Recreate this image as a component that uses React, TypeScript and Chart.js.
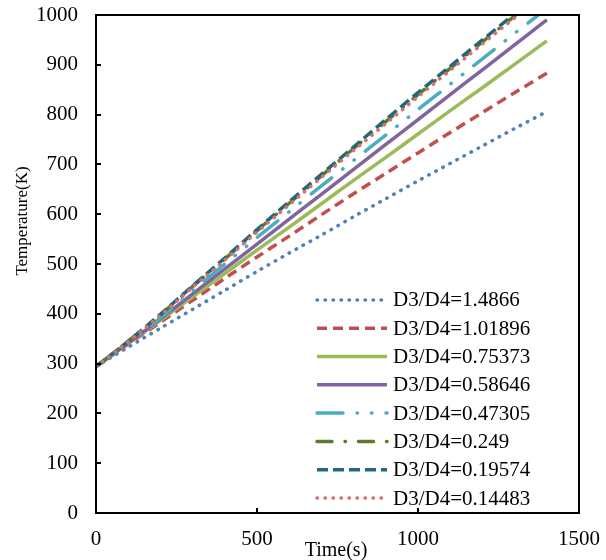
import React, { useEffect, useRef } from "react";
import { Chart, registerables } from "chart.js";

Chart.register(...registerables);

const times = [0, 100, 200, 300, 400, 500, 600, 700, 800, 900, 1000, 1100, 1200, 1300, 1400];

const seriesNames = [
  "D3/D4=1.4866",
  "D3/D4=1.01896",
  "D3/D4=0.75373",
  "D3/D4=0.58646",
  "D3/D4=0.47305",
  "D3/D4=0.249",
  "D3/D4=0.19574",
  "D3/D4=0.14483",
];

const t14866 = [294, 333, 371, 409, 447, 485, 522, 558, 595, 631, 667, 702, 737, 772, 806];
const t101896 = [294, 339, 383, 427, 471, 514, 556, 599, 641, 682, 723, 764, 804, 844, 883];
const t075373 = [294, 340, 387, 434, 481, 528, 574, 621, 668, 714, 761, 808, 854, 901, 948];
const t058646 = [294, 341, 390, 440, 490, 540, 590, 640, 690, 740, 790, 840, 890, 940, 990];
const t047305 = [294, 342, 392, 446, 500, 553, 605, 657, 708, 759, 810, 861, 912, 963, 1013];
const t0249 = [294, 345, 398, 455, 510, 567, 622, 677, 732, 786, 840, 893, 946, 998, 1050];
const t019574 = [294, 345, 399, 456, 512, 569, 625, 680, 735, 790, 844, 897, 950, 1002, 1054];
const t014483 = [294, 344, 397, 453, 508, 564, 619, 674, 728, 782, 836, 889, 942, 994, 1046];

const seriesValues = [t14866, t101896, t075373, t058646, t047305, t0249, t019574, t014483];

const xTicks = [0, 500, 1000, 1500];
const yTicks = [0, 100, 200, 300, 400, 500, 600, 700, 800, 900, 1000];

const colors = ["#4F81BD", "#C0504D", "#9BBB59", "#8064A2", "#4BACC6", "#5C7A2C", "#23687A", "#D9706E"];
const dashes: number[][] = [
  [0.5, 7.5],
  [10, 6],
  [],
  [],
  [26, 14, 0.5, 14, 0.5, 14],
  [15, 13, 0.5, 13],
  [11, 5],
  [0.5, 7.5],
];
const caps = ["round", "butt", "butt", "butt", "round", "round", "butt", "round"];

const FONT = "'Liberation Serif', 'Times New Roman', serif";

const framePlugin = {
  id: "framePlugin",
  afterDraw(chart: any) {
    const { ctx, chartArea } = chart;
    const { left, right, top, bottom } = chartArea;
    const xs = chart.scales.x;
    const ys = chart.scales.y;
    ctx.save();
    ctx.strokeStyle = "#000";
    ctx.lineWidth = 2;
    ctx.setLineDash([]);
    ctx.strokeRect(left, top, right - left, bottom - top);
    ctx.beginPath();
    for (const v of yTicks) {
      const y = Math.round(ys.getPixelForValue(v));
      ctx.moveTo(left, y);
      ctx.lineTo(left + 5, y);
    }
    for (const v of xTicks) {
      const x = Math.round(xs.getPixelForValue(v));
      ctx.moveTo(x, bottom);
      ctx.lineTo(x, bottom - 5);
    }
    ctx.stroke();

    // axis titles
    ctx.fillStyle = "#000";
    ctx.font = `17px ${FONT}`;
    ctx.textAlign = "center";
    ctx.textBaseline = "middle";
    ctx.save();
    ctx.translate(23, 221);
    ctx.rotate(-Math.PI / 2);
    ctx.fillText("Temperature(K)", 0, 0);
    ctx.restore();
    ctx.font = `20px ${FONT}`;
    ctx.fillText("Time(s)", 336, 551);

    // legend
    const ds = chart.data.datasets;
    const x0 = right - 262;
    const x1 = right - 192;
    const tx = right - 186;
    for (let i = 0; i < ds.length; i++) {
      const y = bottom - 15 - (ds.length - 1 - i) * 28.3;
      ctx.beginPath();
      ctx.strokeStyle = ds[i].borderColor;
      ctx.lineWidth = 3.5;
      ctx.lineCap = ds[i].borderCapStyle;
      ctx.setLineDash(ds[i].borderDash);
      ctx.moveTo(x0, y);
      ctx.lineTo(x1, y);
      ctx.stroke();
      ctx.setLineDash([]);
      ctx.font = `21px ${FONT}`;
      ctx.textAlign = "left";
      ctx.fillStyle = "#000";
      ctx.fillText(ds[i].label, tx, y + 1);
    }
    ctx.restore();
  },
};

export default function App() {
  const canvasRef = useRef<HTMLCanvasElement | null>(null);

  useEffect(() => {
    if (!canvasRef.current) return;
    Chart.defaults.font.family = FONT;
    const datasets = seriesNames.map((name, i) => ({
      label: name,
      data: times.map((t, j) => ({ x: t, y: seriesValues[i][j] })),
      borderColor: colors[i],
      backgroundColor: colors[i],
      borderWidth: 3.5,
      borderDash: dashes[i],
      borderCapStyle: caps[i],
      pointRadius: 0,
      tension: 0.3,
      fill: false,
      order: seriesNames.length - i,
    }));
    const chart = new Chart(canvasRef.current, {
      type: "line",
      data: { datasets },
      options: {
        animation: false,
        responsive: false,
        maintainAspectRatio: false,
        layout: { padding: { top: 0, right: 0, left: 0, bottom: 0 } },
        plugins: {
          legend: { display: false },
          tooltip: { enabled: false },
          title: { display: false },
        },
        scales: {
          x: {
            type: "linear",
            min: 0,
            max: 1500,
            afterFit: (s: any) => {
              s.height = 47;
              s.paddingRight = 27;
              s.paddingLeft = 0;
            },
            afterBuildTicks: (s: any) => {
              s.ticks = xTicks.map((v) => ({ value: v }));
            },
            grid: { display: false, drawTicks: false },
            border: { display: false },
            ticks: {
              color: "#000",
              font: { size: 21, family: FONT },
              padding: 14,
              maxRotation: 0,
              callback: (v: any) => String(v),
            },
          },
          y: {
            type: "linear",
            min: 0,
            max: 1000,
            afterFit: (s: any) => {
              s.width = 96;
              s.paddingTop = 15;
              s.paddingBottom = 0;
            },
            afterBuildTicks: (s: any) => {
              s.ticks = yTicks.map((v) => ({ value: v }));
            },
            grid: { display: false, drawTicks: false },
            border: { display: false },
            ticks: {
              color: "#000",
              font: { size: 21, family: FONT },
              padding: 18,
              callback: (v: any) => String(v),
            },
          },
        },
      },
      plugins: [framePlugin],
    } as any);
    return () => chart.destroy();
  }, []);

  return (
    <div style={{ position: "fixed", left: 0, top: 0, width: 606, height: 560, background: "#fff" }}>
      <canvas ref={canvasRef} width={606} height={560} style={{ width: 606, height: 560, display: "block" }} />
    </div>
  );
}
